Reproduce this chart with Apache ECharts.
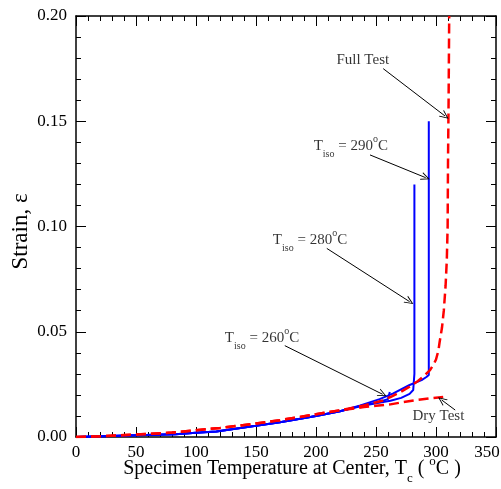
<!DOCTYPE html>
<html>
<head>
<meta charset="utf-8">
<script src="https://cdn.jsdelivr.net/npm/echarts@6/dist/echarts.min.js"></script>
<style>html,body{margin:0;padding:0;background:#fff}#c{width:501px;height:489px}</style>
</head>
<body>
<div id="c"></div>
<script>
var xTicks = [0, 50, 100, 150, 200, 250, 300, 350];
var yTicks = [0.00, 0.05, 0.10, 0.15, 0.20];

var fullTest = [[0,0],[20,0.0003],[50,0.0012],[80,0.0021],[100,0.0032],[120,0.0043],[150,0.0064],[170,0.0080],[200,0.0108],[220,0.0127],[240,0.0150],[255,0.0172],[262,0.0190],[270,0.0212],[278,0.0239],[285,0.0266],[290,0.0290],[295,0.0318],[298,0.0345],[300,0.0368],[302,0.0410],[303,0.0450],[305,0.0520],[306.5,0.0600],[308,0.0720],[309,0.0840],[309.7,0.1000],[310,0.1300],[310.5,0.1600],[311,0.2000]];
var dryTest = [[0,0],[20,0.0003],[50,0.0012],[80,0.0021],[100,0.0032],[120,0.0043],[150,0.0064],[170,0.0080],[200,0.0108],[220,0.0127],[240,0.0142],[250,0.0148],[262,0.0155],[273,0.0166],[284,0.0176],[295,0.0184],[306,0.0190]];
var iso290 = [[0,0],[50,0.0008],[83,0.0013],[100,0.0020],[117,0.0026],[150,0.0053],[170,0.0070],[200,0.0100],[220,0.0122],[237,0.0150],[253,0.0180],[264,0.0206],[278,0.0247],[288,0.0270],[292,0.0285],[294,0.0295],[294,0.1500]];
var iso280 = [[0,0],[50,0.0008],[83,0.0013],[100,0.0020],[117,0.0026],[150,0.0053],[170,0.0070],[200,0.0100],[220,0.0122],[237,0.0146],[250,0.0160],[262,0.0172],[271,0.0186],[278,0.0205],[281,0.0223],[282,0.0300],[282,0.1200]];
var iso260 = [[0,0],[50,0.0008],[83,0.0013],[100,0.0020],[117,0.0026],[150,0.0053],[170,0.0070],[200,0.0100],[220,0.0122],[237,0.0148],[250,0.0163],[260,0.0180],[261.5,0.0185],[261.5,0.0214]];

var labelNames = ['Full Test', '290', '280', '260', 'Dry Test'];
var labelPos = [[239,0.179],[229,0.138],[195,0.0935],[155,0.0468],[302,0.0098]];
var arrows = [
  [[256,0.175],[307.5,0.1525]],
  [[245,0.134],[291.4,0.1232]],
  [[209,0.0896],[278,0.0643]],
  [[174,0.0434],[255.5,0.0203]],
  [[316,0.0128],[304.7,0.0176]]
];

var FONT = 'Liberation Serif';
var INK = '#000';
var rich = {
  t: {fontFamily: FONT, fontSize: 15, color: INK, lineHeight: 20},
  sub: {fontFamily: FONT, fontSize: 10, color: INK, lineHeight: 20, verticalAlign: 'bottom', padding:[0,0,-3,0]},
  sup: {fontFamily: FONT, fontSize: 10, color: INK, lineHeight: 20, verticalAlign: 'top', padding:[-2,0,0,0]}
};
function fmtLabel(name) {
  if (name.length === 3) return '{t|T}{sub|iso}{t| = ' + name + '}{sup|o}{t|C}';
  return '{t|' + name + '}';
}

var chart = echarts.init(document.getElementById('c'), null, {renderer: 'canvas'});

var axisCommon = {
  axisLine: {show: true, onZero: false, lineStyle: {color: '#000', width: 1.5}},
  axisTick: {show: true, inside: true, length: 10, lineStyle: {color: '#000', width: 1}},
  minorTick: {show: true, splitNumber: 5, length: 5, lineStyle: {color: '#000', width: 1}},
  splitLine: {show: false}
};

var option = {
  animation: false,
  backgroundColor: '#fff',
  grid: {left: 76, right: 5, top: 16, bottom: 52, containLabel: false, outerBoundsMode: 'none'},
  xAxis: [
    Object.assign({}, axisCommon, {
      type: 'value', min: 0, max: 350, interval: 50, position: 'bottom',
      axisLabel: {margin: 7, fontFamily: FONT, fontSize: 17, color: INK,
        formatter: function (v) { return v === 350 ? '{r|350}' : String(v); },
        rich: {r: {fontFamily: FONT, fontSize: 17, color: INK, padding: [0, 18, 0, 0]}}},
      name: 'Specimen Temperature at Center, T{sub|c} ( {sup|o}C )',
      nameLocation: 'middle', nameGap: 20, nameMoveOverlap: false,
      nameTextStyle: {fontFamily: FONT, fontSize: 20, color: INK, padding: [0, 0, 0, 12],
        rich: {
          sub: {fontFamily: FONT, fontSize: 13, color: INK, verticalAlign: 'bottom', lineHeight: 24, padding:[0,0,-4,0]},
          sup: {fontFamily: FONT, fontSize: 13, color: INK, verticalAlign: 'top', lineHeight: 24, padding:[-2,0,0,0]}
        }}
    }),
    Object.assign({}, axisCommon, {
      type: 'value', min: 0, max: 350, interval: 50, position: 'top',
      axisLabel: {show: false}
    })
  ],
  yAxis: [
    Object.assign({}, axisCommon, {
      type: 'value', min: 0, max: 0.2, interval: 0.05, position: 'left',
      axisLabel: {margin: 9, fontFamily: FONT, fontSize: 17, color: INK,
        formatter: function (v) { return v.toFixed(2); }},
      name: 'Strain, \u03b5', nameLocation: 'middle', nameGap: 44, nameMoveOverlap: false,
      nameTextStyle: {fontFamily: FONT, fontSize: 23, color: INK, padding: [0, 10, 0, 0]}
    }),
    Object.assign({}, axisCommon, {
      type: 'value', min: 0, max: 0.2, interval: 0.05, position: 'right',
      axisLabel: {show: false}
    })
  ],
  series: [
    {type: 'line', data: iso260, showSymbol: false, symbol: 'none', lineStyle: {color: '#0000ff', width: 2}, z: 2},
    {type: 'line', data: iso280, showSymbol: false, symbol: 'none', lineStyle: {color: '#0000ff', width: 2}, z: 2},
    {type: 'line', data: iso290, showSymbol: false, symbol: 'none', lineStyle: {color: '#0000ff', width: 2}, z: 2},
    {type: 'line', data: dryTest, showSymbol: false, symbol: 'none', lineStyle: {color: '#ff0000', width: 2.5, type: [10, 5]}, z: 3},
    {type: 'line', data: fullTest, showSymbol: false, symbol: 'none', lineStyle: {color: '#ff0000', width: 2.5, type: [10, 5]}, z: 3},
    {
      type: 'scatter', symbolSize: 0, z: 5,
      data: labelPos.map(function (p, i) { return {value: p, name: labelNames[i]}; }),
      label: {show: true, position: 'inside', rich: rich,
        formatter: function (p) { return fmtLabel(p.name); }},
      markLine: {
        silent: true, animation: false,
        symbol: ['none', 'path://M0,10 L5,0 L10,10 L8.8,10 L5,2.4 L1.2,10 Z'],
        symbolSize: [8, 9],
        label: {show: false},
        lineStyle: {color: '#000', width: 1, type: 'solid'},
        data: arrows.map(function (a) { return [{coord: a[0]}, {coord: a[1]}]; })
      }
    }
  ]
};
chart.setOption(option);
</script>
</body>
</html>
